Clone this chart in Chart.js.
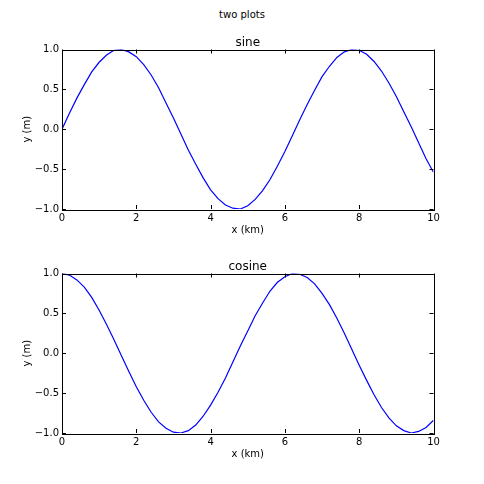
<!DOCTYPE html>
<html>
<head>
<meta charset="utf-8">
<script src="https://cdn.jsdelivr.net/npm/chart.js@4/dist/chart.umd.min.js"></script>
<style>
  html, body { margin: 0; padding: 0; background: #fff; }
  #wrap { position: relative; width: 484px; height: 484px; overflow: hidden; }
  #suptitle { position: absolute; top: 9px; left: 0; width: 484px; text-align: center;
    font: 10px "DejaVu Sans", sans-serif; color: #000; }
  .box { position: absolute; left: 0; width: 484px; height: 242px; }
</style>
</head>
<body>
<div id="wrap">
  <div id="suptitle">two plots</div>
  <div class="box" style="top:0"><canvas id="sinePlot"></canvas></div>
  <div class="box" style="top:224px"><canvas id="cosinePlot"></canvas></div>
</div>
<script>
const xValues = [0, 0.2, 0.4, 0.6, 0.8, 1.0, 1.2, 1.4, 1.6, 1.8, 2.0, 2.2, 2.4, 2.6, 2.8, 3.0, 3.2, 3.4, 3.6, 3.8,
  4.0, 4.2, 4.4, 4.6, 4.8, 5.0, 5.2, 5.4, 5.6, 5.8, 6.0, 6.2, 6.4, 6.6, 6.8, 7.0, 7.2, 7.4, 7.6, 7.8,
  8.0, 8.2, 8.4, 8.6, 8.8, 9.0, 9.2, 9.4, 9.6, 9.8, 10.0];
const sineValues = [0, 0.20, 0.39, 0.56, 0.72, 0.84, 0.93, 0.99, 1.00, 0.97, 0.91, 0.81, 0.68, 0.52, 0.33, 0.14,
  -0.06, -0.26, -0.44, -0.61, -0.76, -0.87, -0.95, -0.99, -1.00, -0.96, -0.88, -0.77, -0.63, -0.46, -0.28,
  -0.08, 0.12, 0.31, 0.49, 0.66, 0.79, 0.90, 0.97, 1.00, 0.99, 0.94, 0.85, 0.73, 0.58, 0.41, 0.22, 0.03,
  -0.17, -0.37, -0.54];
const cosineValues = [1.00, 0.98, 0.92, 0.83, 0.70, 0.54, 0.36, 0.17, -0.03, -0.23, -0.42, -0.59, -0.74, -0.86,
  -0.94, -0.99, -1.00, -0.97, -0.90, -0.79, -0.65, -0.49, -0.31, -0.11, 0.09, 0.28, 0.47, 0.63, 0.78, 0.89,
  0.96, 1.00, 0.99, 0.95, 0.87, 0.75, 0.61, 0.44, 0.25, 0.05, -0.15, -0.34, -0.52, -0.68, -0.81, -0.91,
  -0.97, -1.00, -0.98, -0.93, -0.84];
const xTicks = [0, 2, 4, 6, 8, 10];
const yTicks = [-1.0, -0.5, 0.0, 0.5, 1.0];

const font = '"DejaVu Sans", sans-serif';
const fmtY = v => (v < 0 ? '\u2212' : '') + Math.abs(v).toFixed(1);

// matplotlib-style frame with inward ticks on all four sides, plus axes title
const framePlugin = {
  id: 'frame',
  afterDraw(chart, args, opts) {
    const { ctx, chartArea: a, scales } = chart;
    ctx.save();
    ctx.strokeStyle = '#000';
    ctx.lineWidth = 1;
    ctx.beginPath();
    xTicks.forEach(t => {
      const px = Math.round(scales.x.getPixelForValue(t)) + 0.5;
      ctx.moveTo(px, a.top); ctx.lineTo(px, a.top + 4);
      ctx.moveTo(px, a.bottom); ctx.lineTo(px, a.bottom - 4);
    });
    yTicks.forEach(t => {
      const py = Math.round(scales.y.getPixelForValue(t)) + 0.5;
      ctx.moveTo(a.left, py); ctx.lineTo(a.left + 4, py);
      ctx.moveTo(a.right, py); ctx.lineTo(a.right - 4, py);
    });
    ctx.stroke();
    ctx.strokeRect(Math.round(a.left) + 0.5, Math.round(a.top) + 0.5,
      Math.round(a.right - a.left), Math.round(a.bottom - a.top));
    ctx.fillStyle = '#000';
    ctx.font = '12px ' + font;
    ctx.textAlign = 'center';
    ctx.textBaseline = 'alphabetic';
    ctx.fillText(opts.text, (a.left + a.right) / 2, a.top - 4);
    ctx.restore();
  }
};

function makeChart(id, title, values) {
  return new Chart(document.getElementById(id), {
    type: 'line',
    data: {
      datasets: [{
        data: xValues.map((x, i) => ({ x, y: values[i] })),
        borderColor: '#0000ff',
        borderWidth: 1.2,
        pointRadius: 0,
        tension: 0,
        fill: false,
      }],
    },
    options: {
      responsive: true,
      maintainAspectRatio: false,
      animation: false,
      layout: { padding: { top: 49.5, right: 50.5, left: 0, bottom: 0 } },
      plugins: { legend: { display: false }, tooltip: { enabled: false }, frame: { text: title } },
      scales: {
        x: {
          type: 'linear', min: 0, max: 10,
          grid: { display: false, drawTicks: false },
          border: { display: false },
          afterBuildTicks: s => { s.ticks = xTicks.map(v => ({ value: v })); },
          afterFit: s => { s.height = 33; },
          ticks: { color: '#000', font: { family: font, size: 10 }, padding: 3, maxRotation: 0,
            callback: v => String(v) },
          title: { display: true, text: 'x (km)', color: '#000', font: { family: font, size: 10 },
            padding: { top: 0, bottom: 6 } },
        },
        y: {
          min: -1, max: 1,
          grid: { display: false, drawTicks: false },
          border: { display: false },
          afterBuildTicks: s => { s.ticks = yTicks.map(v => ({ value: v })); },
          afterFit: s => { s.width = 62; },
          ticks: { color: '#000', font: { family: font, size: 10 }, padding: 3,
            callback: v => fmtY(Number(v)) },
          title: { display: true, text: 'y (m)', color: '#000', font: { family: font, size: 10 },
            padding: { top: 21, bottom: 0 } },
        },
      },
    },
    plugins: [framePlugin],
  });
}

makeChart('sinePlot', 'sine', sineValues);
makeChart('cosinePlot', 'cosine', cosineValues);
</script>
</body>
</html>
